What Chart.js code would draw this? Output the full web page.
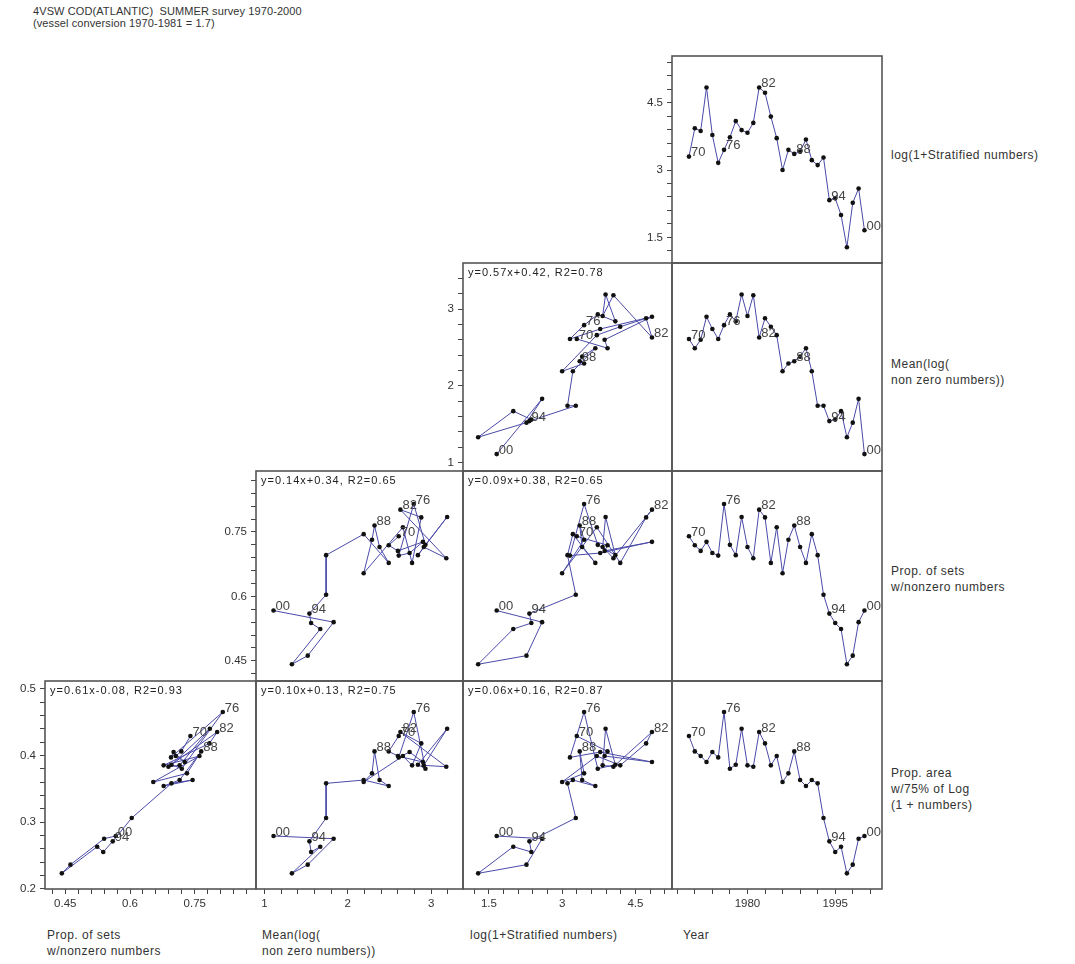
<!DOCTYPE html>
<html><head><meta charset="utf-8">
<script src="https://cdn.jsdelivr.net/npm/chart.js@4.4.0/dist/chart.umd.min.js"></script>
<style>
body{margin:0;background:#fff;width:1075px;height:964px;position:relative;overflow:hidden;font-family:"Liberation Sans",Arial,sans-serif;}
canvas{position:absolute;}
.txt{position:absolute;font-size:12px;letter-spacing:0.5px;color:#333;line-height:16px;white-space:nowrap;}
</style></head><body>
<div class="txt" style="left:33px;top:5px;line-height:12px;font-size:11px;letter-spacing:0.1px">4VSW COD(ATLANTIC)&nbsp; SUMMER survey 1970-2000<br>(vessel conversion 1970-1981 = 1.7)</div>
<div class="txt" style="left:891px;top:147px">log(1+Stratified numbers)</div>
<div class="txt" style="left:891px;top:356px">Mean(log(<br>non zero numbers))</div>
<div class="txt" style="left:891px;top:563px">Prop. of sets<br>w/nonzero numbers</div>
<div class="txt" style="left:891px;top:765px">Prop. area<br>w/75% of Log<br>(1 + numbers)</div>
<div class="txt" style="left:47px;top:927px">Prop. of sets<br>w/nonzero numbers</div>
<div class="txt" style="left:262px;top:927px">Mean(log(<br>non zero numbers))</div>
<div class="txt" style="left:470px;top:927px">log(1+Stratified numbers)</div>
<div class="txt" style="left:683px;top:927px">Year</div>
<script>
// ---- data ----
const years = [1970,1971,1972,1973,1974,1975,1976,1977,1978,1979,1980,1981,1982,1983,1984,1985,1986,1987,1988,1989,1990,1991,1992,1993,1994,1995,1996,1997,1998,1999,2000];
const logStrat = [3.30,3.93,3.87,4.84,3.78,3.16,3.45,3.73,4.09,3.89,3.83,4.05,4.84,4.72,4.19,3.71,3.00,3.45,3.36,3.41,3.68,3.22,3.11,3.28,2.33,2.37,2.00,1.28,2.27,2.59,1.66];
const meanLog = [2.61,2.49,2.60,2.90,2.74,2.61,2.79,2.93,2.84,3.19,2.91,3.18,2.63,2.88,2.77,2.66,2.19,2.29,2.32,2.38,2.49,2.19,1.74,1.74,1.54,1.56,1.67,1.33,1.52,1.83,1.11];
const propSets = [0.740,0.719,0.706,0.727,0.701,0.695,0.815,0.720,0.696,0.785,0.715,0.689,0.802,0.784,0.678,0.761,0.654,0.732,0.765,0.715,0.678,0.745,0.696,0.604,0.560,0.538,0.524,0.442,0.462,0.540,0.567];
const propArea = [0.429,0.406,0.399,0.390,0.405,0.397,0.465,0.380,0.386,0.440,0.385,0.383,0.435,0.418,0.385,0.399,0.360,0.373,0.406,0.363,0.354,0.363,0.358,0.306,0.271,0.255,0.263,0.223,0.236,0.275,0.279];
const labelYears = [1970,1976,1982,1988,1994,2000];
const fitNotes = {
  meanVsStrat: 'y=0.57x+0.42, R2=0.78',
  setsVsMean: 'y=0.14x+0.34, R2=0.65',
  setsVsStrat: 'y=0.09x+0.38, R2=0.65',
  areaVsSets: 'y=0.61x-0.08, R2=0.93',
  areaVsMean: 'y=0.10x+0.13, R2=0.75',
  areaVsStrat: 'y=0.06x+0.16, R2=0.87'
};
// tick labels (major) per axis
const stratMajor = ['1.5','3','4.5'];
const meanMajor = ['1','2','3'];
const setsMajor = ['0.45','0.6','0.75'];
const areaMajor = ['0.2','0.3','0.4','0.5'];
const yearMajor = ['1980','1995'];

// ---- layout ----
const colEdges = [45,256,463,672,882];
const rowEdges = [56,263,471,681,889];
const AXW = 40, AXH = 24, M = 3;

function steps(a,b,s){const r=[];for(let v=a;v<=b+1e-9;v+=s)r.push(+v.toFixed(4));return r;}
const AX = {
  stratRow: {min:0.93,max:5.54,ticks:steps(1.2,5.4,0.3),major:stratMajor},
  stratCol: {min:0.97,max:5.25,ticks:steps(1.2,5.1,0.3),major:stratMajor},
  meanRow:  {min:0.89,max:3.60,ticks:steps(1.0,3.4,0.2),major:meanMajor},
  meanCol:  {min:0.90,max:3.38,ticks:steps(1.0,3.2,0.2),major:meanMajor},
  setsRow:  {min:0.403,max:0.892,ticks:steps(0.42,0.87,0.03),major:setsMajor},
  setsCol:  {min:0.403,max:0.892,ticks:steps(0.42,0.87,0.03),major:setsMajor},
  areaRow:  {min:0.1995,max:0.5116,ticks:steps(0.2,0.5,0.02),major:areaMajor},
  yearCol:  {min:1967.1,max:2003.0,ticks:steps(1968,2001,3),major:yearMajor}
};

const panels = [
  {r:0,c:3,x:years,y:logStrat,xa:AX.yearCol,ya:AX.stratRow,showY:true},
  {r:1,c:2,x:logStrat,y:meanLog,xa:AX.stratCol,ya:AX.meanRow,showY:true,note:fitNotes.meanVsStrat},
  {r:1,c:3,x:years,y:meanLog,xa:AX.yearCol,ya:AX.meanRow},
  {r:2,c:1,x:meanLog,y:propSets,xa:AX.meanCol,ya:AX.setsRow,showY:true,note:fitNotes.setsVsMean},
  {r:2,c:2,x:logStrat,y:propSets,xa:AX.stratCol,ya:AX.setsRow,note:fitNotes.setsVsStrat},
  {r:2,c:3,x:years,y:propSets,xa:AX.yearCol,ya:AX.setsRow},
  {r:3,c:0,x:propSets,y:propArea,xa:AX.setsCol,ya:AX.areaRow,showY:true,showX:true,note:fitNotes.areaVsSets},
  {r:3,c:1,x:meanLog,y:propArea,xa:AX.meanCol,ya:AX.areaRow,showX:true,note:fitNotes.areaVsMean},
  {r:3,c:2,x:logStrat,y:propArea,xa:AX.stratCol,ya:AX.areaRow,showX:true,note:fitNotes.areaVsStrat},
  {r:3,c:3,x:years,y:propArea,xa:AX.yearCol,ya:AX.areaRow,showX:true}
];

const deco = {
  id:'deco',
  beforeDatasetsDraw(chart,args,o){
    const a=chart.chartArea, ctx=chart.ctx;
    ctx.save(); ctx.strokeStyle='#555'; ctx.lineWidth=1.6;
    ctx.strokeRect(a.left,a.top,a.right-a.left,a.bottom-a.top);
    ctx.restore();
  },
  afterDatasetsDraw(chart,args,o){
    const a=chart.chartArea, ctx=chart.ctx, sx=chart.scales.x, sy=chart.scales.y;
    ctx.save();
    ctx.fillStyle='#444'; ctx.font='13px "Liberation Sans", Arial, sans-serif';
    ctx.textAlign='left'; ctx.textBaseline='middle';
    o.years.forEach((yr,i)=>{
      if(labelYears.includes(yr)){
        const px=sx.getPixelForValue(o.xs[i]), py=sy.getPixelForValue(o.ys[i]);
        ctx.fillText(String(yr).slice(2),px+2,py-4);
      }
    });
    if(o.note){
      ctx.font='11px "Liberation Sans", Arial, sans-serif'; ctx.fillStyle='#222';
      try{ctx.letterSpacing='1px';}catch(e){}
      ctx.fillText(o.note,a.left+5,a.top+10);
    }
    ctx.restore();
  }
};

function axisCfg(ax,show,dir){
  return {
    type:'linear', min:ax.min, max:ax.max, display:!!show,
    position: dir==='x'?'bottom':'left',
    grid:{display:true,drawOnChartArea:false,drawTicks:true,tickLength:5,color:'#444',lineWidth:1},
    border:{display:false},
    ticks:{autoSkip:false,maxRotation:0,minRotation:0,padding:dir==='x'?3:4,color:'#333',
      font:{family:'"Liberation Sans", Arial, sans-serif',size:11.5},
      callback:(v)=>{const m=ax.major.find(s=>Math.abs(parseFloat(s)-v)<1e-6);return m?m:'';}},
    afterBuildTicks:(s)=>{s.ticks=ax.ticks.map(v=>({value:v}));},
    afterFit:(s)=>{
      if(show){ if(dir==='x') s.height=AXH; else s.width=AXW; }
      s.paddingLeft=0;s.paddingRight=0;s.paddingTop=0;s.paddingBottom=0;
    }
  };
}

panels.forEach(p=>{
  const L=colEdges[p.c],R=colEdges[p.c+1],T=rowEdges[p.r],B=rowEdges[p.r+1];
  const padL = p.showY?AXW:M, padB = p.showX?AXH:M;
  const cv=document.createElement('canvas');
  const w=(R-L)+padL+M, h=(B-T)+M+padB;
  cv.width=w; cv.height=h;
  cv.style.left=(L-padL)+'px'; cv.style.top=(T-M)+'px';
  cv.style.width=w+'px'; cv.style.height=h+'px';
  document.body.appendChild(cv);
  const pts=p.x.map((xv,i)=>({x:xv,y:p.y[i]}));
  new Chart(cv,{
    type:'scatter',
    data:{datasets:[{data:pts,showLine:true,borderColor:'#4a4aa8',borderWidth:1,
      pointRadius:2.3,pointBackgroundColor:'#111',pointBorderColor:'#111',pointBorderWidth:0,tension:0}]},
    options:{
      responsive:false,animation:false,devicePixelRatio:1,
      layout:{autoPadding:false,padding:{left:p.showY?0:M,right:M,top:M,bottom:p.showX?0:M}},
      plugins:{legend:{display:false},tooltip:{enabled:false},
        deco:{years:years,xs:p.x,ys:p.y,note:p.note}},
      scales:{x:axisCfg(p.xa,p.showX,'x'),y:axisCfg(p.ya,p.showY,'y')}
    },
    plugins:[deco]
  });
});
</script>
</body></html>
